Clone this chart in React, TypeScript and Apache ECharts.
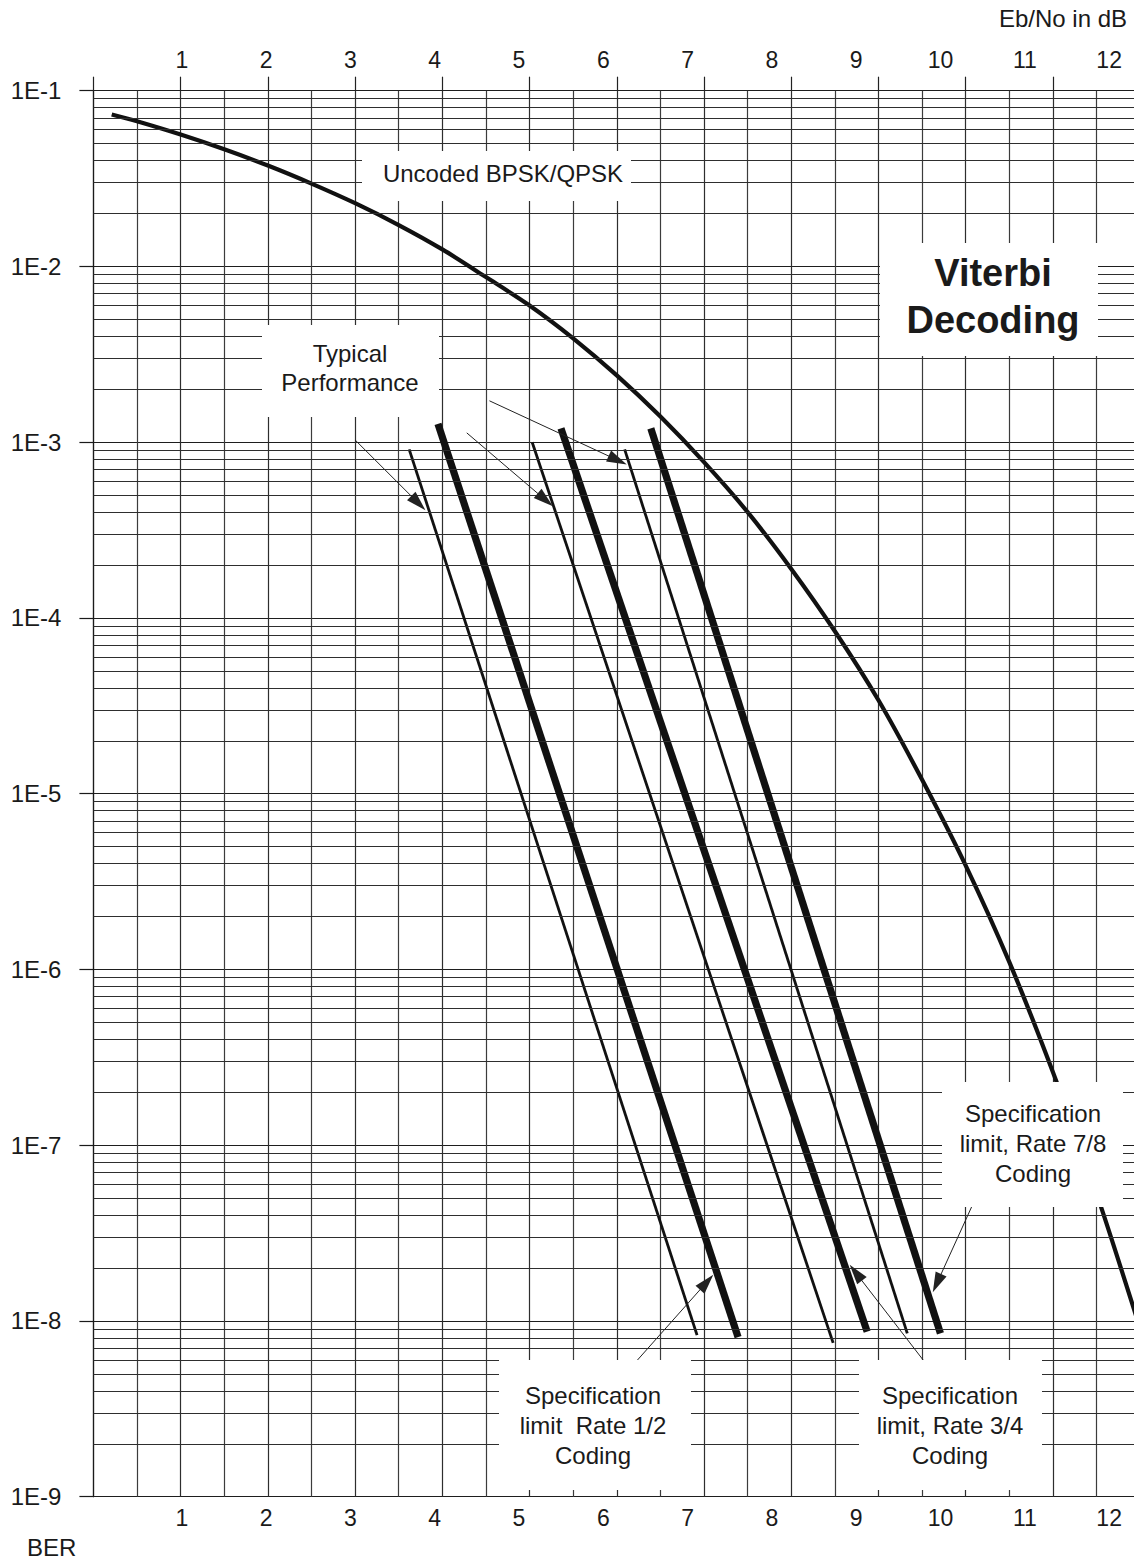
import React, { useEffect, useRef } from "react";
import * as echarts from "echarts";

const FONT = '"Liberation Sans", Arial, Helvetica, sans-serif';
const TEXT = "#1a1a1a";

// Tick labels
const xTickLabels = ["1", "2", "3", "4", "5", "6", "7", "8", "9", "10", "11", "12"];
const yTickLabels = ["1E-9", "1E-8", "1E-7", "1E-6", "1E-5", "1E-4", "1E-3", "1E-2", "1E-1"];
const decadeExponents = [-9, -8, -7, -6, -5, -4, -3, -2];
const minorMultipliers = [2, 3, 4, 5, 6, 7, 8, 9];

// Uncoded BPSK/QPSK curve (Eb/No dB, BER)
const uncodedEbNo = [0.21, 0.5, 1, 1.5, 2, 2.5, 3, 3.5, 4, 4.5, 5, 5.5, 6, 6.5, 7, 7.5, 8, 8.5, 9, 9.5, 10, 10.5, 11, 11.5, 12];
const uncodedBer = [
  0.0733, 0.067, 0.0563, 0.0464, 0.0375, 0.0296, 0.0229, 0.0172, 0.0125, 0.0087, 0.006, 0.0039,
  0.0024, 0.0014, 7.7e-4, 4.0e-4, 1.9e-4, 8.4e-5, 3.4e-5, 1.2e-5, 3.9e-6, 1.1e-6, 2.6e-7, 5.3e-8, 9.0e-9,
];

// Viterbi coded lines
const rate12TypicalEbNo = [3.62, 6.92];
const rate12TypicalBer = [9.1e-4, 8.3e-9];
const rate12SpecEbNo = [3.95, 7.39];
const rate12SpecBer = [1.27e-3, 8.1e-9];
const rate34TypicalEbNo = [5.03, 8.48];
const rate34TypicalBer = [1.0e-3, 7.5e-9];
const rate34SpecEbNo = [5.36, 8.87];
const rate34SpecBer = [1.2e-3, 8.7e-9];
const rate78TypicalEbNo = [6.09, 9.33];
const rate78TypicalBer = [9.1e-4, 8.5e-9];
const rate78SpecEbNo = [6.39, 9.71];
const rate78SpecBer = [1.2e-3, 8.5e-9];

// Annotation arrows (from -> to)
const arrowFromEbNo = [3.0, 4.28, 4.54, 6.17, 9.57, 10.08];
const arrowFromBer = [1.03e-3, 1.13e-3, 1.72e-3, 5.5e-9, 5.5e-9, 4.6e-8];
const arrowToEbNo = [3.725, 5.18, 6.01, 7.03, 8.74, 9.67];
const arrowToBer = [4.5e-4, 4.7e-4, 7.9e-4, 1.66e-8, 1.88e-8, 1.64e-8];

const pairs = (xs: number[], ys: number[]) => xs.map((x, i) => [x, ys[i]]);

const codedLine = (name: string, xs: number[], ys: number[], width: number) => ({
  name,
  type: "line",
  xAxisIndex: 0,
  yAxisIndex: 0,
  data: pairs(xs, ys),
  showSymbol: false,
  symbol: "none",
  silent: true,
  z: 3,
  lineStyle: { color: "#111", width, cap: "butt" },
});

export default function App() {
  const ref = useRef<HTMLDivElement>(null);

  useEffect(() => {
    if (!ref.current) return;
    const chart = echarts.init(ref.current, undefined, { renderer: "svg" });

    const minorValues: number[] = [];
    decadeExponents.forEach((e) => minorMultipliers.forEach((m) => minorValues.push(m * Math.pow(10, e))));

    const xLabelFormatter = (v: number) => {
      const r = Math.round(v);
      if (Math.abs(v - r) > 1e-6 || r < 1 || r > 12) return "";
      return xTickLabels[r - 1];
    };

    const textEl = (text: string, x: number, y: number, font: string, align = "center", lineHeight = 30) => ({
      type: "text",
      x,
      y,
      z: 101,
      silent: true,
      style: { text, font, fill: TEXT, align, verticalAlign: "middle", textAlign: align, textVerticalAlign: "middle", lineHeight },
    });
    const box = (x: number, y: number, width: number, height: number) => ({
      type: "rect",
      z: 100,
      silent: true,
      shape: { x, y, width, height },
      style: { fill: "#ffffff", stroke: null },
    });

    const normal = `24px ${FONT}`;

    chart.setOption({
      animation: false,
      backgroundColor: "#ffffff",
      grid: [
        { left: 93.4, top: 90.7, right: -6.2, bottom: 62.3, containLabel: false, outerBoundsMode: "none" },
        { left: 97.5, top: 90.7, right: 0, bottom: 62.3, containLabel: false, outerBoundsMode: "none" },
      ],
      xAxis: [
        {
          type: "value",
          gridIndex: 0,
          position: "top",
          min: 0,
          max: 12,
          interval: 1,
          axisLine: { show: false },
          axisTick: { show: true, inside: false, length: 14, lineStyle: { color: "#222", width: 1.2 } },
          axisLabel: { show: false },
          splitLine: { show: true, lineStyle: { color: "#2e2e2e", width: 1.2 } },
          minorTick: { show: false, splitNumber: 2 },
          minorSplitLine: { show: true, lineStyle: { color: "#3c3c3c", width: 1.2 } },
        },
        {
          type: "value",
          gridIndex: 1,
          position: "top",
          min: 0,
          max: 12.295,
          interval: 1,
          axisLine: { show: false },
          axisTick: { show: false },
          splitLine: { show: false },
          axisLabel: { show: true, margin: 19, formatter: xLabelFormatter, color: TEXT, fontSize: 23, fontFamily: FONT },
        },
        {
          type: "value",
          gridIndex: 1,
          position: "bottom",
          min: 0,
          max: 12.295,
          interval: 1,
          axisLine: { show: false },
          axisTick: { show: false },
          splitLine: { show: false },
          axisLabel: { show: true, margin: 10, formatter: xLabelFormatter, color: TEXT, fontSize: 23, fontFamily: FONT },
        },
      ],
      yAxis: [
        {
          type: "log",
          gridIndex: 0,
          logBase: 10,
          min: 1e-9,
          max: 1e-1,
          splitNumber: 8,
          axisLine: { show: true, lineStyle: { color: "#1a1a1a", width: 1.2 } },
          axisTick: { show: true, inside: false, length: 14, lineStyle: { color: "#1a1a1a", width: 1.2 } },
          axisLabel: {
            show: true,
            margin: 32,
            color: TEXT,
            fontSize: 24,
            fontFamily: FONT,
            formatter: (v: number) => yTickLabels[Math.round(Math.log10(v)) + 9] || "",
          },
          splitLine: { show: true, lineStyle: { color: "#1e1e1e", width: 1.2 } },
        },
        { type: "value", gridIndex: 1, min: 0, max: 1, show: false },
      ],
      series: [
        {
          name: "grid-minor",
          type: "line",
          xAxisIndex: 0,
          yAxisIndex: 0,
          data: [[0, 1e-9]],
          showSymbol: false,
          symbol: "none",
          silent: true,
          z: 1,
          lineStyle: { opacity: 0 },
          markLine: {
            silent: true,
            symbol: ["none", "none"],
            label: { show: false },
            lineStyle: { color: "#2e2e2e", width: 1.2, type: "solid" },
            emphasis: { disabled: true },
            data: minorValues.map((v) => [{ coord: [0, v] }, { coord: [12, v] }]),
          },
        },
        {
          name: "labels-grid",
          type: "line",
          xAxisIndex: 1,
          yAxisIndex: 1,
          data: [],
          silent: true,
        },
        {
          name: "Uncoded BPSK/QPSK",
          type: "line",
          xAxisIndex: 0,
          yAxisIndex: 0,
          data: pairs(uncodedEbNo, uncodedBer),
          smooth: 0.3,
          showSymbol: false,
          symbol: "none",
          silent: true,
          clip: true,
          z: 3,
          lineStyle: { color: "#111", width: 4.2 },
        },
        codedLine("Typical Rate 1/2", rate12TypicalEbNo, rate12TypicalBer, 2.8),
        codedLine("Spec Rate 1/2", rate12SpecEbNo, rate12SpecBer, 7.2),
        codedLine("Typical Rate 3/4", rate34TypicalEbNo, rate34TypicalBer, 2.8),
        codedLine("Spec Rate 3/4", rate34SpecEbNo, rate34SpecBer, 7.2),
        codedLine("Typical Rate 7/8", rate78TypicalEbNo, rate78TypicalBer, 2.8),
        codedLine("Spec Rate 7/8", rate78SpecEbNo, rate78SpecBer, 7.2),
        {
          name: "arrows",
          type: "line",
          xAxisIndex: 0,
          yAxisIndex: 0,
          data: [[0, 1e-9]],
          showSymbol: false,
          symbol: "none",
          silent: true,
          z: 4,
          lineStyle: { opacity: 0 },
          markLine: {
            silent: true,
            symbol: ["none", "triangle"],
            symbolSize: [12, 20],
            label: { show: false },
            lineStyle: { color: "#222", width: 1, type: "solid" },
            itemStyle: { color: "#111" },
            emphasis: { disabled: true },
            data: arrowFromEbNo.map((x, i) => [
              { coord: [x, arrowFromBer[i]] },
              { coord: [arrowToEbNo[i], arrowToBer[i]] },
            ]),
          },
        },
      ],
      graphic: [
        box(362, 151, 269, 50),
        box(262, 325, 177, 92),
        box(880, 243, 218, 113),
        box(499, 1360, 192, 130),
        box(859, 1360, 183, 130),
        box(942, 1082, 181, 125),
        textEl("Uncoded BPSK/QPSK", 503, 173.5, normal),
        textEl("Typical\nPerformance", 350, 367.5, normal, "center", 29),
        textEl("Viterbi\nDecoding", 993, 296.5, `bold 38px ${FONT}`, "center", 47),
        textEl("Specification\nlimit  Rate 1/2\nCoding", 593, 1425, normal, "center", 30),
        textEl("Specification\nlimit, Rate 3/4\nCoding", 950, 1425, normal, "center", 30),
        textEl("Specification\nlimit, Rate 7/8\nCoding", 1033, 1143, normal, "center", 30),
        textEl("Eb/No in dB", 1127, 18, normal, "right"),
        textEl("BER", 27, 1547, normal, "left"),
      ],
    });

    return () => chart.dispose();
  }, []);

  return (
    <div
      ref={ref}
      style={{ position: "absolute", left: 0, top: 0, width: 1134, height: 1559, background: "#ffffff" }}
    />
  );
}
